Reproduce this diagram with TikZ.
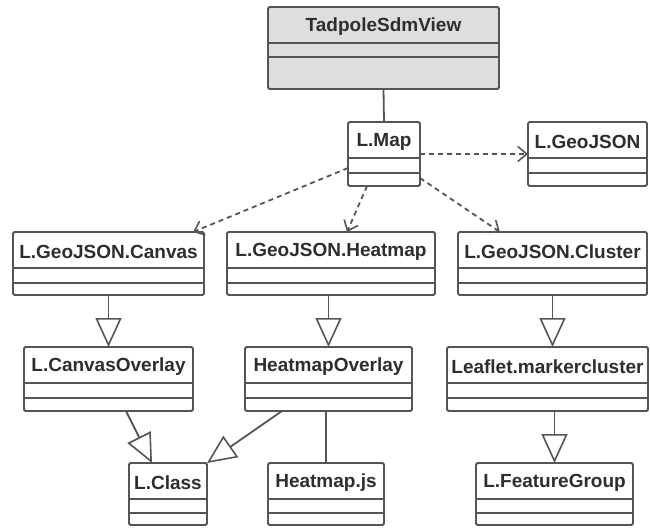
\documentclass[tikz,border=0pt]{standalone}
\usepackage{fontspec}
\setmainfont{Liberation Sans}
\usetikzlibrary{arrows.meta}

\definecolor{edge}{HTML}{555555}
\definecolor{ink}{HTML}{2E2E2E}
\definecolor{headfill}{HTML}{DEDEDE}

\tikzset{
  classbox/.style={draw=edge, line width=1.8pt, rounded corners=1.5pt, fill=white,
    inner sep=0pt, outer sep=0pt, anchor=north west},
  divider/.style={draw=edge, line width=1.8pt},
  classname/.style={font=\fontsize{19}{21}\selectfont\bfseries, text=ink, inner sep=0pt},
  assoc/.style={draw=edge, line width=1.8pt},
  depend/.style={draw=edge, line width=1.8pt, dash pattern=on 5pt off 4pt,
    -{Straight Barb[length=9pt, width=15pt, line width=1.6pt]}},
  inherit/.style={draw=edge, line width=1.8pt,
    -{Triangle[open, length=29pt, width=26pt, line width=1.6pt, fill=white]}},
}

% class box: name, left, top, width, height, title, second divider offset, extra style
\newcommand\umlclass[8]{%
  \node[classbox, minimum width=#4pt, minimum height=#5pt, #8] (#1) at (#2,#3) {};
  \draw[divider] ([yshift=-36pt]#1.north west) -- ([yshift=-36pt]#1.north east);
  \draw[divider] ([yshift=-#7pt]#1.north west) -- ([yshift=-#7pt]#1.north east);
  \node[classname] at ([yshift=-19.5pt]#1.north) {#6};
}

\begin{document}
\begin{tikzpicture}[x=1pt, y=-1pt]
  \useasboundingbox (0,0) rectangle (650,530);

  % classes
  \umlclass{tadpole}{268}{7}{231}{82}{TadpoleSdmView}{50}{fill=headfill}
  \umlclass{map}{348}{122}{72}{64}{L.Map}{51}{}
  \umlclass{geojson}{528}{122}{119}{64}{L.GeoJSON}{51}{}
  \umlclass{canvas}{13}{232}{191}{63}{L.GeoJSON.Canvas}{51}{}
  \umlclass{heatmap}{227}{232}{208}{63}{L.GeoJSON.Heatmap}{51}{}
  \umlclass{cluster}{458}{232}{189}{63}{L.GeoJSON.Cluster}{51}{}
  \umlclass{canvasov}{24}{347}{169}{64}{L.CanvasOverlay}{51}{}
  \umlclass{heatov}{245}{347}{167}{64}{HeatmapOverlay}{51}{}
  \umlclass{marker}{447}{347}{201}{64}{Leaflet.markercluster}{51}{}
  \umlclass{lclass}{129}{463}{78}{62}{L.Class}{50}{}
  \umlclass{heatjs}{268}{463}{116}{62}{Heatmap.js}{50}{}
  \umlclass{feature}{476}{463}{157}{62}{L.FeatureGroup}{50}{}

  % associations
  \draw[assoc] (tadpole.south) -- (map.north);
  \draw[assoc] (heatjs.north |- heatov.south) -- (heatjs.north);

  % dependencies
  \draw[depend] (map.east) -- (geojson.west);
  \draw[depend] ([yshift=-46pt]map.north west) -- ([xshift=-11pt]canvas.north east);
  \draw[depend] ([xshift=19pt]map.south west) -- ([xshift=16pt]heatmap.north);
  \draw[depend] ([yshift=8pt]map.south east) -- ([xshift=42pt]cluster.north west);

  % generalizations
  \draw[inherit] (canvas.south) -- (canvasov.north);
  \draw[inherit] (heatov.north |- heatmap.south) -- (heatov.north);
  \draw[inherit] (cluster.south) -- (cluster.south |- marker.north);
  \draw[inherit] (feature.north |- marker.south) -- (feature.north);
  \draw[inherit] ([xshift=102pt]canvasov.south west) -- ([xshift=23pt]lclass.north west);
  \draw[inherit] ([xshift=37pt]heatov.south west) -- (lclass.north east);
\end{tikzpicture}
\end{document}
